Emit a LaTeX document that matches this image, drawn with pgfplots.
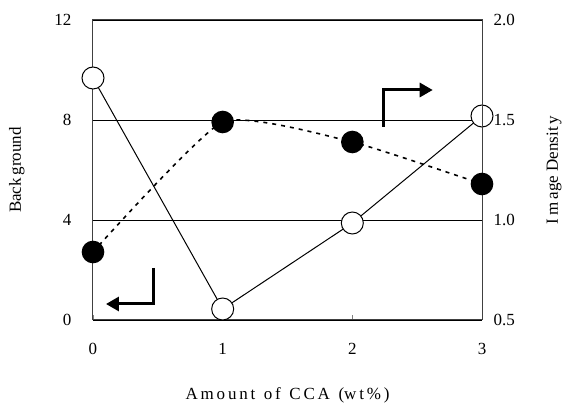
\documentclass[border=0pt]{standalone}
\usepackage{pgfplots}
\pgfplotsset{compat=1.18}
\usepackage{fontspec}
\setmainfont{Liberation Serif}
\usetikzlibrary{arrows.meta}
\pgfplotsset{every axis/.append style={
  tick label style={font=\fontsize{17}{20}\selectfont},
  label style={font=\fontsize{17}{20}\selectfont}}}
\begin{document}
\begin{tikzpicture}
\begin{axis}[
  scale only axis, width=389pt, height=300pt,
  xmin=0, xmax=3, ymin=0, ymax=12,
  xtick={0,1,2,3}, ytick={0,4,8,12},
  xtick pos=bottom, ytick pos=left,
  tick align=inside, major tick length=5pt,
  ytick style={draw=none},
  ymajorgrids, grid style={black, line width=0.6pt},
  axis line style={line width=1pt, black!75},
  /pgf/number format/assume math mode=true,
  xticklabel style={yshift=-20pt},
  yticklabel style={xshift=-18pt},
  ylabel={Back\,ground}, ylabel style={yshift=23pt},
  xlabel={A\,m\,o\,u\,n\,t\ \ o\,f\ \ C\,C\,A\ \ (w\,t\,\%\,)}, xlabel style={yshift=-26pt},
  clip=false,
]
\addplot[black, line width=1pt, mark=*, mark size=11pt, mark options={fill=white, line width=1pt}]
  coordinates {(0,9.68) (1,0.44) (2,3.88) (3,8.16)};
\draw[line width=3pt, -{Triangle[length=13pt,width=14pt]}] (axis cs:0.47,2.08) -- (axis cs:0.47,0.64) -- (axis cs:0.10,0.64);
\draw[line width=3pt, -{Triangle[length=13pt,width=14pt]}] (axis cs:2.237,7.72) -- (axis cs:2.237,9.2) -- (axis cs:2.62,9.2);
\end{axis}
\begin{axis}[
  scale only axis, width=389pt, height=300pt,
  xmin=0, xmax=3, ymin=0.5, ymax=2.0,
  axis x line=none, axis y line*=right,
  ytick={0.5,1.0,1.5,2.0}, ytick style={draw=none},
  axis line style={line width=1pt, black!75},
  yticklabel style={/pgf/number format/fixed, /pgf/number format/fixed zerofill, /pgf/number format/precision=1, xshift=8pt},
  /pgf/number format/assume math mode=true,
  ylabel={I\,m\,age Densit\,y}, ylabel style={yshift=-25pt},
  clip=false,
]
\addplot[black, line width=1.6pt, smooth, tension=0.3, dash pattern=on 4pt off 5pt, mark=*, mark size=10.5pt, mark options={solid, fill=black}]
  coordinates {(0,0.84) (1,1.49) (2,1.39) (3,1.18)};
\end{axis}
\path (0,0) ++(-93pt,-83pt) rectangle (389pt,300pt) ++(85pt,20pt);
\end{tikzpicture}
\end{document}
